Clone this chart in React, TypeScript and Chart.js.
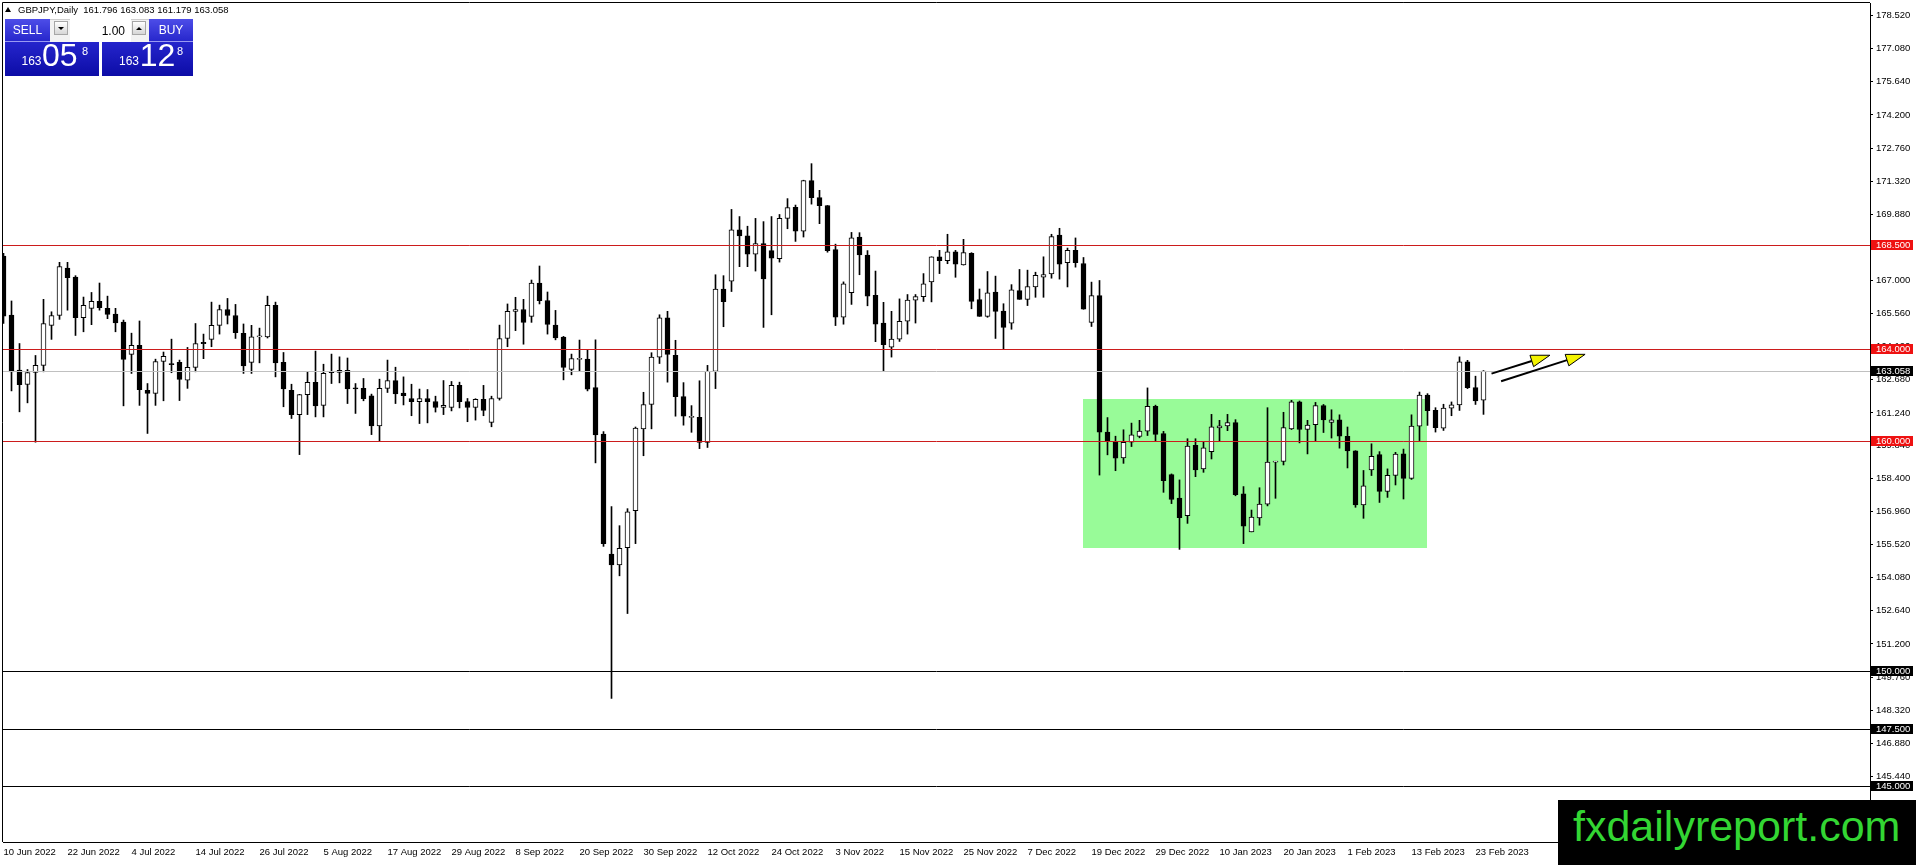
import React, { useEffect, useRef } from "react";
import { Chart, registerables } from "chart.js";

Chart.register(...registerables);

const FONT = '"Liberation Sans", Arial, sans-serif';
const NARROW = '"Liberation Sans Narrow", "Liberation Sans", Arial, sans-serif';

// ---- data (GBPJPY daily, one bar per weekday starting 10 Jun 2022) ----
const opens = [
  168.06,165.50,163.10,162.48,163.00,163.31,165.05,165.48,167.54,167.15,
  165.38,165.79,166.09,165.79,165.54,165.19,163.79,164.18,162.22,162.09,
  163.48,163.39,163.44,162.67,163.22,164.31,164.44,165.05,165.74,165.48,
  164.70,163.44,164.55,164.55,165.92,163.44,162.22,161.17,162.04,162.57,
  161.57,163.05,163.00,163.09,162.32,162.31,161.99,160.68,162.31,162.65,
  162.10,161.87,161.73,161.87,161.74,161.48,161.48,162.44,161.74,161.48,
  161.83,160.83,161.87,164.48,165.66,165.74,165.44,166.89,166.13,165.06,
  164.54,163.13,163.57,163.58,162.34,160.32,155.10,154.63,155.38,156.99,
  160.55,161.61,163.67,165.38,163.75,161.95,161.05,161.05,159.96,163.05,
  166.63,166.97,169.20,168.94,168.14,168.61,168.30,167.95,169.70,170.18,
  169.15,171.34,170.60,170.26,168.34,165.41,166.47,168.89,168.11,166.36,
  165.15,164.10,164.45,165.23,166.15,166.30,166.94,168.03,167.86,168.25,
  167.68,168.18,166.17,165.44,166.50,165.67,165.15,166.56,166.18,166.72,
  167.14,167.29,168.97,167.77,168.31,167.74,165.18,166.34,160.41,160.00,
  159.29,159.97,160.22,160.45,161.53,160.34,158.56,157.54,156.77,159.83,
  158.81,159.56,160.59,160.68,160.82,157.72,156.07,156.68,157.28,159.10,
  159.13,160.55,161.72,160.52,160.73,161.56,160.83,160.94,160.23,159.59,
  157.24,158.76,159.43,157.83,158.53,159.46,158.40,160.67,162.02,161.35,
  160.58,161.45,161.59,163.46,162.34,161.796,
];
const highs = [
  168.18,166.11,164.26,163.13,163.74,166.18,165.64,167.79,167.79,167.21,
  166.28,166.48,166.89,166.32,165.79,165.28,164.71,165.24,162.52,163.58,
  163.89,164.45,163.54,164.09,165.13,164.67,166.06,165.93,166.22,165.96,
  165.11,165.05,164.93,166.32,166.06,163.87,162.49,162.05,163.02,163.93,
  163.36,163.80,163.68,163.63,162.52,162.74,162.06,162.71,163.54,163.23,
  162.81,162.49,162.28,162.26,161.97,162.65,162.61,162.58,161.87,161.86,
  162.44,161.97,165.06,165.98,166.27,166.18,167.02,167.63,166.50,165.70,
  164.57,163.80,164.41,163.97,164.42,160.43,157.17,156.34,157.08,160.63,
  162.14,163.86,165.51,165.66,164.40,162.56,161.56,162.64,163.31,167.25,
  167.21,170.09,169.78,169.36,169.70,169.56,169.78,169.87,170.56,170.28,
  171.36,172.08,170.92,170.26,168.58,166.94,169.09,169.08,168.30,167.41,
  166.05,165.66,166.20,166.39,166.39,167.30,168.03,168.31,169.01,168.31,
  168.79,168.21,166.63,167.39,167.19,165.99,166.82,167.48,167.45,167.36,
  168.03,169.01,169.27,168.41,168.85,168.00,166.93,167.00,161.04,160.23,
  160.51,160.80,160.92,162.33,161.58,160.44,158.59,158.33,160.12,160.12,
  159.97,161.18,160.92,161.18,160.95,158.04,157.02,157.99,161.47,159.14,
  161.27,161.79,161.76,160.92,161.70,161.61,161.38,161.16,160.63,159.60,
  158.74,159.90,159.56,158.81,159.53,159.67,161.16,162.15,162.08,161.47,
  161.62,161.72,163.68,163.53,162.84,163.083,
];
const lows = [
  165.13,162.20,161.29,161.68,159.97,163.03,164.44,165.31,165.71,164.61,
  164.77,165.08,165.71,165.34,164.77,161.55,162.96,161.57,160.35,161.57,
  161.77,162.99,161.78,162.31,163.03,163.60,164.12,164.67,165.11,164.48,
  162.96,162.96,163.42,164.50,162.81,161.51,161.00,159.43,161.17,161.07,
  161.07,162.52,162.55,161.65,161.22,161.77,160.30,160.01,162.13,161.65,
  161.59,161.12,160.78,160.81,161.28,161.17,161.33,161.46,160.86,160.93,
  161.12,160.64,161.80,164.12,164.82,164.23,165.18,165.98,164.67,164.42,
  162.68,162.90,163.07,162.20,159.07,155.44,148.83,154.16,152.52,155.56,
  159.38,160.55,163.39,162.58,161.10,160.71,160.40,159.69,159.74,162.30,
  164.99,166.52,167.60,167.60,167.41,164.96,165.51,167.80,169.25,168.70,
  168.89,170.32,169.47,168.23,165.04,165.10,165.96,167.25,165.90,164.34,
  163.05,163.67,164.35,164.67,165.15,166.09,166.07,167.30,167.73,167.14,
  167.67,165.77,165.44,165.40,164.48,164.01,164.88,166.18,165.91,166.27,
  166.27,167.10,167.06,166.72,167.58,165.75,165.00,158.54,159.42,158.73,
  159.05,159.78,160.16,160.26,160.02,157.79,157.30,155.31,156.44,158.47,
  158.66,159.24,160.00,160.47,157.64,155.56,156.07,156.36,157.20,157.53,
  158.98,160.52,159.94,159.46,160.00,160.39,160.15,159.71,158.85,157.14,
  156.66,158.52,157.35,157.57,158.11,157.50,158.35,160.04,160.70,160.41,
  160.48,161.12,161.35,162.30,161.61,161.179,
];
const closes = [
  165.45,163.03,162.47,163.00,163.31,165.13,165.48,167.61,167.12,165.38,
  165.92,166.09,165.82,165.53,165.16,163.57,164.18,162.25,162.09,163.48,
  163.70,163.34,162.70,163.22,164.26,164.25,165.05,165.74,165.48,164.73,
  163.29,164.55,164.58,165.92,163.42,162.29,161.17,162.04,162.57,161.55,
  162.96,162.99,163.09,162.29,162.29,161.86,160.68,162.31,162.65,162.07,
  161.99,161.73,161.87,161.73,161.48,161.57,162.44,161.73,161.48,161.83,
  161.35,161.87,164.48,165.66,165.74,165.18,166.89,166.12,165.09,164.50,
  163.22,163.61,163.59,162.28,160.29,155.56,154.63,155.36,156.94,160.58,
  161.61,163.67,165.38,163.79,161.95,161.10,161.06,159.96,163.05,166.63,
  166.08,169.20,168.94,168.14,168.61,167.07,167.97,169.70,170.17,169.15,
  171.34,170.60,170.25,168.30,165.41,166.86,168.86,168.11,166.32,165.10,
  164.21,164.45,165.23,166.15,166.30,166.85,168.03,167.86,168.25,167.71,
  168.21,166.09,165.44,166.46,165.66,164.96,166.59,166.18,166.74,167.22,
  167.26,168.91,167.71,168.31,167.77,165.75,166.34,160.41,160.00,159.27,
  159.96,160.29,160.45,161.53,160.31,158.30,157.48,156.69,159.80,158.76,
  159.72,160.64,160.68,160.82,157.69,156.32,156.71,157.28,159.11,159.13,
  160.60,161.72,160.52,160.71,161.56,160.94,160.94,160.23,159.59,157.24,
  158.07,159.36,157.83,158.53,159.45,158.40,160.67,162.02,161.34,160.60,
  161.45,161.59,163.46,162.34,161.76,163.058,
];

const dateTickBars = [0, 8, 16, 24, 32, 40, 48, 56, 64, 72, 80, 88, 96, 104, 112, 120, 128, 136, 144, 152, 160, 168, 176, 184];
const dateLabels = [
  "10 Jun 2022", "22 Jun 2022", "4 Jul 2022", "14 Jul 2022", "26 Jul 2022", "5 Aug 2022",
  "17 Aug 2022", "29 Aug 2022", "8 Sep 2022", "20 Sep 2022", "30 Sep 2022", "12 Oct 2022",
  "24 Oct 2022", "3 Nov 2022", "15 Nov 2022", "25 Nov 2022", "7 Dec 2022", "19 Dec 2022",
  "29 Dec 2022", "10 Jan 2023", "20 Jan 2023", "1 Feb 2023", "13 Feb 2023", "23 Feb 2023",
];
const priceTicks = [
  178.52, 177.08, 175.64, 174.2, 172.76, 171.32, 169.88, 168.44, 167.0, 165.56, 164.12, 162.68,
  161.24, 159.84, 158.4, 156.96, 155.52, 154.08, 152.64, 151.2, 149.76, 148.32, 146.88, 145.44, 144.0,
];

const redLevels = [168.5, 164.0, 160.0];
const blackLevels = [150.0, 147.5, 145.0];
const bidLevel = [163.058];

const zoneBars = [134.98, 177.9];
const zonePrices = [161.85, 155.37];

const arrowFromBar = [186.0, 187.2];
const arrowFromPrice = [162.95, 162.62];
const arrowToBar = [193.3, 197.7];
const arrowToPrice = [163.75, 163.79];

const X_MIN = -0.0625;
const X_MAX = 233.3125;
const Y_MIN = 142.587;
const Y_MAX = 179.065;

const overlayPlugin = {
  id: "mt4Overlay",
  beforeDatasetsDraw(chart: any) {
    const { ctx, chartArea: a, scales } = chart;
    const x = scales.x;
    const y = scales.y;
    ctx.save();
    ctx.beginPath();
    ctx.rect(a.left, a.top, a.right - a.left, a.bottom - a.top);
    ctx.clip();
    const x0 = Math.round(x.getPixelForValue(zoneBars[0]));
    const x1 = Math.round(x.getPixelForValue(zoneBars[1]));
    const y0 = Math.round(y.getPixelForValue(zonePrices[0]));
    const y1 = Math.round(y.getPixelForValue(zonePrices[1]));
    ctx.fillStyle = "#98fb98";
    ctx.fillRect(x0, y0, x1 - x0, y1 - y0);
    ctx.restore();
  },
  afterDatasetsDraw(chart: any) {
    const { ctx, chartArea: a, scales } = chart;
    const x = scales.x;
    const y = scales.y;
    ctx.save();
    ctx.beginPath();
    ctx.rect(a.left, a.top, a.right - a.left, a.bottom - a.top);
    ctx.clip();
    const hline = (v: number, color: string) => {
      const py = Math.floor(y.getPixelForValue(v)) + 0.5;
      ctx.strokeStyle = color;
      ctx.lineWidth = 1;
      ctx.beginPath();
      ctx.moveTo(a.left, py);
      ctx.lineTo(a.right, py);
      ctx.stroke();
    };
    bidLevel.forEach((v) => hline(v, "#c0c0c0"));
    redLevels.forEach((v) => hline(v, "#cc1c1c"));
    blackLevels.forEach((v) => hline(v, "#000000"));

    for (let i = 0; i < arrowFromBar.length; i++) {
      const sx = x.getPixelForValue(arrowFromBar[i]);
      const sy = y.getPixelForValue(arrowFromPrice[i]);
      const ex = x.getPixelForValue(arrowToBar[i]);
      const ey = y.getPixelForValue(arrowToPrice[i]);
      const ang = Math.atan2(ey - sy, ex - sx);
      const L = 19;
      const W = 6;
      const bx = ex - L * Math.cos(ang);
      const by = ey - L * Math.sin(ang);
      ctx.strokeStyle = "#000";
      ctx.lineWidth = 2;
      ctx.beginPath();
      ctx.moveTo(sx, sy);
      ctx.lineTo(bx, by);
      ctx.stroke();
      ctx.beginPath();
      ctx.moveTo(ex, ey);
      ctx.lineTo(bx + W * Math.sin(ang), by - W * Math.cos(ang));
      ctx.lineTo(bx - W * Math.sin(ang), by + W * Math.cos(ang));
      ctx.closePath();
      ctx.fillStyle = "#f4f400";
      ctx.fill();
      ctx.lineWidth = 1;
      ctx.stroke();
    }
    ctx.restore();
  },
  afterDraw(chart: any) {
    const { ctx, chartArea: a, scales } = chart;
    const y = scales.y;
    ctx.save();
    // frame (top and left edges)
    ctx.strokeStyle = "#000";
    ctx.lineWidth = 1;
    ctx.beginPath();
    ctx.moveTo(a.left - 0.5, a.bottom);
    ctx.lineTo(a.left - 0.5, a.top - 0.5);
    ctx.lineTo(a.right, a.top - 0.5);
    ctx.stroke();
    // price labels of the level lines
    const tag = (v: number, bg: string) => {
      const py = Math.floor(y.getPixelForValue(v));
      ctx.fillStyle = bg;
      ctx.fillRect(a.right + 1, py - 5, 42, 10);
      ctx.fillStyle = "#fff";
      ctx.font = `9.5px ${FONT}`;
      ctx.textBaseline = "middle";
      ctx.textAlign = "left";
      ctx.fillText(v.toFixed(3), a.right + 6, py + 0.5);
    };
    bidLevel.forEach((v) => tag(v, "#000"));
    redLevels.forEach((v) => tag(v, "#ee1111"));
    blackLevels.forEach((v) => tag(v, "#000"));
    ctx.restore();
  },
};

export default function App() {
  const ref = useRef<HTMLCanvasElement>(null);

  useEffect(() => {
    if (!ref.current) return;
    const bodyData = opens.map((o, i) => ({ x: i, y: [o, closes[i]] }));
    const wickData = lows.map((l, i) => ({ x: i, y: [l, highs[i]] }));
    const bodyColors = opens.map((o, i) => (closes[i] >= o ? "#ffffff" : "#000000"));

    const chart = new Chart(ref.current, {
      type: "bar",
      data: {
        datasets: [
          {
            label: "body",
            data: bodyData as any,
            backgroundColor: bodyColors,
            borderColor: "#000",
            borderWidth: 1,
            borderSkipped: false,
            barThickness: 5,
            grouped: false,
            minBarLength: 1,
            order: 1,
          } as any,
          {
            label: "wick",
            data: wickData as any,
            backgroundColor: "#000",
            borderWidth: 0,
            barThickness: 1,
            grouped: false,
            order: 2,
          } as any,
        ],
      },
      options: {
        responsive: false,
        animation: false,
        events: [],
        layout: { padding: { left: 3, top: 3, right: 0, bottom: 0 } },
        plugins: { legend: { display: false }, tooltip: { enabled: false } },
        scales: {
          x: {
            type: "linear",
            min: X_MIN,
            max: X_MAX,
            offset: false,
            position: "bottom",
            grid: { display: true, drawOnChartArea: false, drawTicks: false },
            border: { display: true, color: "#000", width: 1 },
            ticks: {
              autoSkip: false,
              maxRotation: 0,
              minRotation: 0,
              align: "start",
              padding: 5,
              color: "#000",
              font: { family: FONT, size: 9.5 },
              callback: (v: any) => {
                const k = dateTickBars.indexOf(Number(v));
                return k >= 0 ? dateLabels[k] : "";
              },
            },
            afterBuildTicks: (s: any) => {
              s.ticks = dateTickBars.map((v) => ({ value: v }));
            },
            afterFit: (s: any) => {
              s.height = 23;
              s.paddingLeft = 0;
              s.paddingRight = 0;
            },
          } as any,
          y: {
            type: "linear",
            position: "right",
            min: Y_MIN,
            max: Y_MAX,
            grid: { display: true, drawOnChartArea: false, drawTicks: true, tickLength: 3, tickColor: "#000" },
            border: { display: true, color: "#000", width: 1 },
            ticks: {
              autoSkip: false,
              padding: 3,
              color: "#000",
              font: { family: FONT, size: 9.5 },
              callback: (v: any) => Number(v).toFixed(3),
            },
            afterBuildTicks: (s: any) => {
              s.ticks = priceTicks.map((v) => ({ value: v }));
            },
            afterFit: (s: any) => {
              s.width = 46;
              s.paddingTop = 0;
              s.paddingBottom = 0;
            },
          } as any,
        },
      },
      plugins: [overlayPlugin as any],
    });
    return () => chart.destroy();
  }, []);

  const btn: React.CSSProperties = {
    position: "absolute",
    top: 19,
    height: 23,
    boxSizing: "border-box",
    background: "linear-gradient(#4d4de8, #2727cc)",
    borderBottom: "1px solid #9a9af2",
    color: "#fff",
    fontFamily: NARROW,
    fontSize: 12,
    display: "flex",
    alignItems: "center",
    justifyContent: "center",
  };
  const pricePanel: React.CSSProperties = {
    position: "absolute",
    top: 42,
    height: 34,
    background: "linear-gradient(#2525cc, #0c0ca6)",
  };
  const abs = (left: number, top: number, size: number, extra?: React.CSSProperties): React.CSSProperties => ({
    position: "absolute",
    left,
    top,
    fontSize: size,
    lineHeight: `${size}px`,
    fontFamily: FONT,
    color: "#fff",
    whiteSpace: "pre",
    ...extra,
  });
  const smallBtn = (left: number): React.CSSProperties => ({
    position: "absolute",
    left,
    top: 21,
    width: 14,
    height: 14,
    boxSizing: "border-box",
    border: "1px solid #a6a6a6",
    background: "linear-gradient(#ffffff, #d6d6d6)",
    display: "flex",
    alignItems: "center",
    justifyContent: "center",
  });

  return (
    <div
      style={{
        position: "fixed",
        left: 0,
        top: 0,
        width: 1916,
        height: 865,
        background: "#fff",
        overflow: "hidden",
        fontFamily: FONT,
      }}
    >
      <canvas ref={ref} width={1916} height={865} style={{ position: "absolute", left: 0, top: 0, width: 1916, height: 865 }} />

      {/* header */}
      <div
        style={{
          position: "absolute",
          left: 5,
          top: 7,
          width: 0,
          height: 0,
          borderLeft: "3px solid transparent",
          borderRight: "3px solid transparent",
          borderBottom: "5px solid #000",
        }}
      />
      <div style={abs(18, 4, 9.5, { color: "#000", lineHeight: "11px" })}>
        {"GBPJPY,Daily  161.796 163.083 161.179 163.058"}
      </div>

      {/* one-click trading panel */}
      <div style={{ ...btn, left: 5, width: 45 }}>SELL</div>
      <div style={{ position: "absolute", left: 50, top: 19, width: 99, height: 23, background: "#f2f2f2", borderTop: "1px solid #cfcfcf", boxSizing: "border-box" }} />
      <div style={smallBtn(54)}>
        <div style={{ width: 0, height: 0, borderLeft: "3px solid transparent", borderRight: "3px solid transparent", borderTop: "3px solid #000" }} />
      </div>
      <div style={{ position: "absolute", left: 70, top: 19, width: 61, height: 23, background: "#fff" }} />
      <div style={abs(70, 25, 12, { color: "#000", width: 55, textAlign: "right" })}>1.00</div>
      <div style={smallBtn(132)}>
        <div style={{ width: 0, height: 0, borderLeft: "3px solid transparent", borderRight: "3px solid transparent", borderBottom: "3px solid #000" }} />
      </div>
      <div style={{ ...btn, left: 149, width: 44 }}>BUY</div>

      <div style={{ ...pricePanel, left: 5, width: 94 }} />
      <div style={{ ...pricePanel, left: 102, width: 91 }} />
      <div style={abs(21.5, 54.8, 12)}>163</div>
      <div style={abs(42, 39.3, 32)}>05</div>
      <div style={abs(82, 45.7, 11)}>8</div>
      <div style={abs(119, 54.8, 12)}>163</div>
      <div style={abs(139.8, 39.3, 32)}>12</div>
      <div style={abs(177, 45.7, 11)}>8</div>

      {/* watermark */}
      <div style={{ position: "absolute", left: 1558, top: 800, width: 358, height: 65, background: "#000" }}>
        <div style={abs(15, 4.6, 43, { color: "#33d633" })}>fxdailyreport.com</div>
      </div>
    </div>
  );
}
